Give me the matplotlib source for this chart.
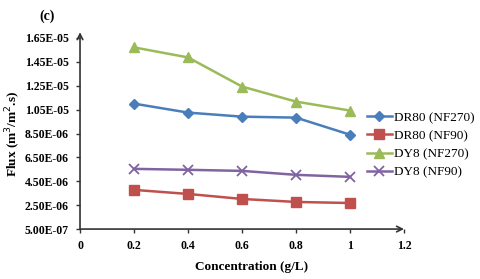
import matplotlib.pyplot as plt

conc = [0.2, 0.4, 0.6, 0.8, 1.0]
dr80_nf270 = [1.10e-05, 1.025e-05, 9.91e-06, 9.83e-06, 8.40e-06]
dr80_nf90 = [3.78e-06, 3.44e-06, 3.02e-06, 2.77e-06, 2.68e-06]
dy8_nf270 = [1.571e-05, 1.487e-05, 1.243e-05, 1.117e-05, 1.042e-05]
dy8_nf90 = [5.54e-06, 5.46e-06, 5.37e-06, 5.04e-06, 4.87e-06]

yticks = [5.0e-07, 2.5e-06, 4.5e-06, 6.5e-06, 8.5e-06, 1.05e-05, 1.25e-05, 1.45e-05, 1.65e-05]
ytick_labels = ["5.00E-07", "2.50E-06", "4.50E-06", "6.50E-06", "8.50E-06",
                "1.05E-05", "1.25E-05", "1.45E-05", "1.65E-05"]
xticks = [0, 0.2, 0.4, 0.6, 0.8, 1, 1.2]
xtick_labels = ["0", "0.2", "0.4", "0.6", "0.8", "1", "1.2"]

plt.rcParams['font.family'] = ['Liberation Serif', 'DejaVu Serif']

fig = plt.figure(figsize=(4.8, 2.79), dpi=100)
ax = fig.add_axes([0.1667, 0.179, 0.675, 0.685])

ax.plot(conc, dr80_nf270, color="#4A7EBB", marker="D", markersize=5, lw=1.8, label="DR80 (NF270)")
ax.plot(conc, dr80_nf90, color="#C0504D", marker="s", markersize=6.5, lw=1.8, label="DR80 (NF90)")
ax.plot(conc, dy8_nf270, color="#9BBB59", marker="^", markersize=6.5, lw=1.8, label="DY8 (NF270)")
ax.plot(conc, dy8_nf90, color="#8064A2", marker="x", markersize=6.5, mew=1.3, lw=1.8, label="DY8 (NF90)")

ax.set_xlim(0, 1.2)
ax.set_ylim(5.0e-07, 1.65e-05)
ax.set_xticks(xticks)
ax.set_xticklabels(xtick_labels, fontsize=8.5, fontweight="bold")
ax.set_yticks(yticks)
ax.set_yticklabels(ytick_labels, fontsize=8.5, fontweight="bold")
ax.tick_params(axis="both", length=3, width=1, color="#333333", pad=5)

for s in ["top", "right", "left", "bottom"]:
    ax.spines[s].set_visible(False)

# axis lines with arrow heads
ax.annotate("", xy=(0, 1.03), xytext=(0, 0), xycoords="axes fraction",
            arrowprops=dict(arrowstyle="->", color="#333333", lw=1.2, shrinkA=0, shrinkB=0))
ax.annotate("", xy=(1.0, 0), xytext=(0, 0), xycoords="axes fraction",
            arrowprops=dict(arrowstyle="->", color="#333333", lw=1.2, shrinkA=0, shrinkB=0))

ax.set_xlabel("Concentration (g/L)", fontsize=9.5, fontweight="bold")
ax.xaxis.set_label_coords(0.528, -0.165)
ax.set_ylabel("Flux (m$^3$/m$^2$.s)", fontsize=9.5, fontweight="bold")
ax.yaxis.set_label_coords(-0.177, 0.5)
fig.text(0.083, 0.93, "(c)", fontsize=10, fontweight="bold")

ax.legend(loc="center left", bbox_to_anchor=(0.865, 0.44), frameon=False, fontsize=9.5,
          handlelength=1.9, labelspacing=0.45, handletextpad=0.15, borderpad=0)

fig.savefig("out.png", dpi=100)
